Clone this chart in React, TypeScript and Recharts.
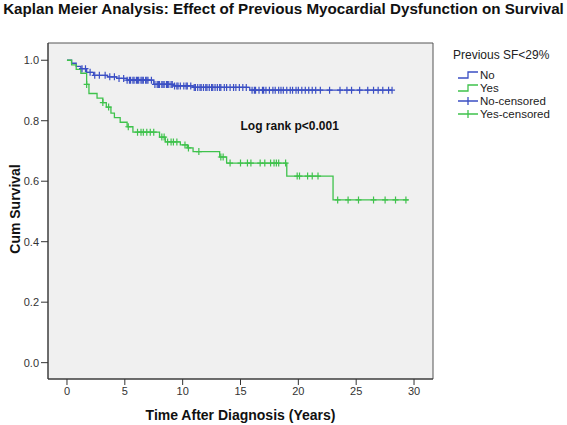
import {
  ComposedChart,
  Line,
  Scatter,
  XAxis,
  YAxis,
  ReferenceArea,
  ReferenceDot,
} from 'recharts'

// Kaplan-Meier step curves
const noTimes = [0, 0.4, 0.8, 1.2, 1.7, 2.3, 3.5, 4.3, 5.2, 7.5, 9.2, 10.9, 15.8, 28.1]
const noSurv = [1.0, 0.99, 0.98, 0.972, 0.96, 0.95, 0.945, 0.94, 0.934, 0.92, 0.915, 0.91, 0.901, 0.901]

const yesTimes = [
  0, 0.4, 0.8, 1.2, 1.7, 1.9, 2.6, 3.1, 3.4, 3.8, 4.1, 4.6, 5.2, 5.7, 8.0, 8.5,
  9.8, 10.4, 10.9, 13.2, 13.8, 19.0, 23.0, 29.5,
]
const yesSurv = [
  1.0, 0.985, 0.97, 0.957, 0.92, 0.89, 0.875, 0.86, 0.845, 0.825, 0.81, 0.795,
  0.78, 0.762, 0.746, 0.73, 0.72, 0.71, 0.698, 0.68, 0.66, 0.617, 0.538, 0.538,
]

// censoring times
const noCensored = [
  1.3, 1.6, 2.0, 2.4, 2.8, 3.3, 3.7, 4.1, 4.5, 4.9, 5.2, 5.4, 5.5, 5.7, 5.8, 6.0,
  6.1, 6.2, 6.4, 6.5, 6.6, 6.8, 6.9, 7.0, 7.3, 7.6, 7.8, 7.9, 8.0, 8.2, 8.3, 8.4,
  8.6, 8.7, 8.8, 9.0, 9.1, 9.3, 9.5, 9.6, 9.8, 10.1, 10.3, 10.4, 10.7, 11.0, 11.1,
  11.3, 11.5, 11.6, 11.8, 12.0, 12.1, 12.3, 12.5, 12.6, 12.8, 13.0, 13.2, 13.3,
  13.6, 13.8, 14.1, 14.4, 14.6, 14.9, 15.2, 15.5, 16.0, 16.2, 16.3, 16.6, 16.9,
  17.0, 17.2, 17.5, 17.8, 18.0, 18.3, 18.5, 18.7, 19.0, 19.3, 19.5, 19.8, 20.0,
  20.3, 20.6, 20.9, 21.2, 21.5, 21.9, 22.7, 23.6, 24.2, 24.6, 25.3, 26.0, 26.5,
  26.9, 27.3, 27.8, 28.1,
]
const yesCensored = [
  1.7, 3.1, 3.6, 5.3, 6.1, 6.4, 6.6, 6.9, 7.2, 7.5, 8.2, 8.4, 8.7, 9.0, 9.2, 9.5,
  10.2, 10.5, 11.4, 13.3, 13.5, 14.1, 15.0, 15.6, 15.9, 16.7, 17.1, 17.6, 17.9,
  18.1, 18.3, 18.9, 19.9, 20.1, 20.8, 21.2, 21.7, 23.4, 24.3, 25.2, 26.5, 27.5,
  28.4, 29.3,
]

const xTicks = [0, 5, 10, 15, 20, 25, 30]
const yTicks = [0, 0.2, 0.4, 0.6, 0.8, 1.0]

const BLUE = '#3b4fc4'
const GREEN = '#3fc24c'
const AXIS = '#333'
const FONT = '"Liberation Sans", Arial, sans-serif'

const X_DOMAIN: [number, number] = [-1.64, 31.64]
const Y_DOMAIN: [number, number] = [-0.054, 1.057]

// survival value of a step curve at time t
function survAt(times: number[], surv: number[], t: number) {
  let v = surv[0]
  for (let i = 0; i < times.length; i++) {
    if (times[i] <= t) v = surv[i]
  }
  return v
}

const noData = noTimes.map((t, i) => ({ t, s: noSurv[i] }))
const yesData = yesTimes.map((t, i) => ({ t, s: yesSurv[i] }))
const noCens = noCensored.map((t) => ({ t, s: survAt(noTimes, noSurv, t) }))
const yesCens = yesCensored.map((t) => ({ t, s: survAt(yesTimes, yesSurv, t) }))

function censorShape(color: string) {
  return (props: any) => {
    const { cx, cy } = props
    if (cx == null || cy == null) return <g />
    return (
      <path
        d={`M${cx - 3},${cy}H${cx + 3}M${cx},${cy - 3.5}V${cy + 3.5}`}
        stroke={color}
        strokeWidth={1.2}
        fill="none"
      />
    )
  }
}

function StepIcon({ color }: { color: string }) {
  return (
    <svg width={22} height={10} style={{ display: 'block' }}>
      <path d="M1,8H11V2H21" stroke={color} strokeWidth={1.3} fill="none" />
    </svg>
  )
}

function CrossIcon({ color }: { color: string }) {
  return (
    <svg width={22} height={10} style={{ display: 'block' }}>
      <path d="M1,5H21M11,1V9" stroke={color} strokeWidth={1.3} fill="none" />
    </svg>
  )
}

function KMLegend() {
  const rows = [
    { label: 'No', icon: <StepIcon color={BLUE} /> },
    { label: 'Yes', icon: <StepIcon color={GREEN} /> },
    { label: 'No-censored', icon: <CrossIcon color={BLUE} /> },
    { label: 'Yes-censored', icon: <CrossIcon color={GREEN} /> },
  ]
  return (
    <div
      style={{
        position: 'absolute',
        left: 453,
        top: 48,
        fontFamily: FONT,
        color: '#222',
        fontSize: 11.5,
      }}
    >
      <div style={{ fontSize: 12, marginBottom: 6, whiteSpace: 'nowrap' }}>
        Previous SF&lt;29%
      </div>
      {rows.map((r) => (
        <div
          key={r.label}
          style={{ display: 'flex', alignItems: 'center', height: 13, marginLeft: 4 }}
        >
          {r.icon}
          <span style={{ marginLeft: 1 }}>{r.label}</span>
        </div>
      ))}
    </div>
  )
}

export default function App() {
  return (
    <div
      style={{
        position: 'absolute',
        left: 0,
        top: 0,
        width: 567,
        height: 425,
        background: '#fff',
        fontFamily: FONT,
      }}
    >
      <div
        style={{
          position: 'absolute',
          left: 0,
          top: 0,
          width: 567,
          textAlign: 'center',
          fontWeight: 'bold',
          fontSize: 15.2,
          whiteSpace: 'nowrap',
          color: '#111',
        }}
      >
        Kaplan Meier Analysis: Effect of Previous Myocardial Dysfunction on Survival
      </div>
      <ComposedChart
        width={567}
        height={425}
        margin={{ top: 43, right: 134, bottom: 16, left: 8 }}
        style={{ position: 'absolute', left: 0, top: 0 }}
      >
        <XAxis
          type="number"
          dataKey="t"
          domain={X_DOMAIN}
          ticks={xTicks}
          allowDataOverflow
          height={30}
          tickSize={6}
          tickMargin={2}
          axisLine={{ stroke: AXIS }}
          tickLine={{ stroke: AXIS }}
          tick={{ fill: '#333', fontSize: 11, fontFamily: FONT }}
          label={(p: any) => {
            const vb = p.viewBox
            return (
              <text
                x={vb.x + vb.width / 2}
                y={420}
                textAnchor="middle"
                fontWeight="bold"
                fontSize={14}
                fontFamily={FONT}
                fill="#111"
              >
                Time After Diagnosis (Years)
              </text>
            )
          }}
        />
        <YAxis
          type="number"
          dataKey="s"
          domain={Y_DOMAIN}
          ticks={yTicks}
          allowDataOverflow
          width={40}
          tickSize={7}
          tickMargin={2}
          axisLine={{ stroke: AXIS }}
          tickLine={{ stroke: AXIS }}
          tick={{ fill: '#333', fontSize: 11, fontFamily: FONT }}
          tickFormatter={(v: number) => v.toFixed(1)}
          label={(p: any) => {
            const vb = p.viewBox
            const cy = 209
            return (
              <text
                x={20}
                y={cy}
                transform={`rotate(-90, 20, ${cy})`}
                textAnchor="middle"
                fontWeight="bold"
                fontSize={14}
                fontFamily={FONT}
                fill="#111"
              >
                Cum Survival
              </text>
            )
          }}
        />
        <ReferenceArea
          x1={X_DOMAIN[0]}
          x2={X_DOMAIN[1]}
          y1={Y_DOMAIN[0]}
          y2={Y_DOMAIN[1]}
          fill="#f0f0f0"
          fillOpacity={1}
          stroke="#555"
          strokeWidth={1}
        />
        <Line
          data={noData}
          dataKey="s"
          type="stepAfter"
          stroke={BLUE}
          strokeWidth={1.3}
          dot={false}
          isAnimationActive={false}
        />
        <Line
          data={yesData}
          dataKey="s"
          type="stepAfter"
          stroke={GREEN}
          strokeWidth={1.3}
          dot={false}
          isAnimationActive={false}
        />
        <Scatter
          data={noCens}
          dataKey="s"
          shape={censorShape(BLUE)}
          isAnimationActive={false}
        />
        <Scatter
          data={yesCens}
          dataKey="s"
          shape={censorShape(GREEN)}
          isAnimationActive={false}
        />
        <ReferenceDot
          x={15}
          y={0.782}
          r={0}
          fill="none"
          stroke="none"
          label={{
            value: 'Log rank p<0.001',
            position: 'right',
            offset: 0,
            fontWeight: 'bold',
            fontSize: 12,
            fontFamily: FONT,
            fill: '#111',
          }}
        />
      </ComposedChart>
      <KMLegend />
    </div>
  )
}
